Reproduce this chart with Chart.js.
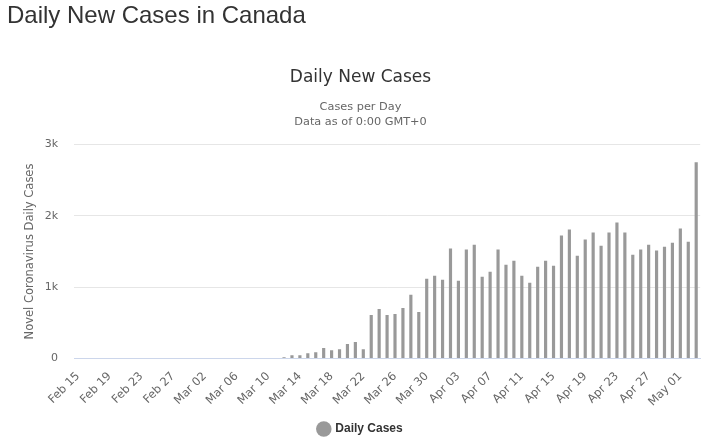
<!DOCTYPE html>
<html>
<head>
<meta charset="utf-8">
<title>Daily New Cases in Canada</title>
<script src="https://cdn.jsdelivr.net/npm/chart.js@4.4.1/dist/chart.umd.min.js"></script>
<style>
    body { margin: 0; background: #fff; width: 709px; height: 447px; overflow: hidden; position: relative; }
    h3 {
        position: absolute; left: 7px; top: 1px; margin: 0; z-index: 2;
        font-family: "Liberation Sans", Arial, sans-serif;
        font-size: 24px; font-weight: normal; color: #333;
    }
    #chartBox { position: absolute; left: 0; top: 0; width: 709px; height: 449px; }
</style>
</head>
<body>
<div id="chartBox"><canvas id="casesChart"></canvas></div>
<h3>Daily New Cases in Canada</h3>

<script>
// Dates shown on the x axis (Feb 15 -> May 03, 2020)
const days = [
    "Feb 15", "Feb 16", "Feb 17", "Feb 18", "Feb 19", "Feb 20", "Feb 21", "Feb 22", "Feb 23", "Feb 24",
    "Feb 25", "Feb 26", "Feb 27", "Feb 28", "Feb 29",
    "Mar 01", "Mar 02", "Mar 03", "Mar 04", "Mar 05", "Mar 06", "Mar 07", "Mar 08", "Mar 09", "Mar 10",
    "Mar 11", "Mar 12", "Mar 13", "Mar 14", "Mar 15", "Mar 16", "Mar 17", "Mar 18", "Mar 19", "Mar 20",
    "Mar 21", "Mar 22", "Mar 23", "Mar 24", "Mar 25", "Mar 26", "Mar 27", "Mar 28", "Mar 29", "Mar 30",
    "Mar 31",
    "Apr 01", "Apr 02", "Apr 03", "Apr 04", "Apr 05", "Apr 06", "Apr 07", "Apr 08", "Apr 09", "Apr 10",
    "Apr 11", "Apr 12", "Apr 13", "Apr 14", "Apr 15", "Apr 16", "Apr 17", "Apr 18", "Apr 19", "Apr 20",
    "Apr 21", "Apr 22", "Apr 23", "Apr 24", "Apr 25", "Apr 26", "Apr 27", "Apr 28", "Apr 29", "Apr 30",
    "May 01", "May 02", "May 03"
];

// Daily new cases (nothing visible before Mar 12)
const dailyCases = [
    0, 0, 0, 0, 0, 0, 0, 0, 0, 0, 0, 0, 0, 0, 0,
    0, 0, 0, 0, 0, 0, 0, 0, 0, 0, 0,
    19, 47, 47, 75, 89, 146, 117, 131, 202, 230,
    131, 610, 695, 610, 624, 709, 892, 653, 1117, 1160,
    1103, 1540, 1089, 1526, 1596, 1146, 1216, 1526, 1315, 1371,
    1160, 1061, 1286, 1371, 1300, 1723, 1808, 1441, 1667, 1765,
    1582, 1765, 1906, 1765, 1455, 1526, 1596, 1512, 1568, 1624,
    1822, 1638, 2751
];

// y axis ticks
const yTicks = [0, 1000, 2000, 3000];
const yTickLabels = ["0", "1k", "2k", "3k"];

document.addEventListener("DOMContentLoaded", function () {
    const ctx = document.getElementById("casesChart")?.getContext("2d");
    if (!ctx) return;

    const dejavu = "'DejaVu Sans', Verdana, sans-serif";

    new Chart(ctx, {
        type: "bar",
        data: {
            labels: days,
            datasets: [{
                label: "Daily Cases",
                data: dailyCases,
                backgroundColor: "#999999",
                borderWidth: 0,
                barPercentage: 0.4,
                categoryPercentage: 1.0,
            }],
        },
        options: {
            responsive: true,
            maintainAspectRatio: false,
            animation: false,
            // left padding pushes title + legend centre to x=360 like the original
            layout: { padding: { left: 19, right: 7, top: 0, bottom: 4 } },
            scales: {
                x: {
                    grid: { display: false },
                    border: { color: "#ccd6eb", width: 1 },
                    ticks: {
                        autoSkip: false,
                        minRotation: 45,
                        maxRotation: 45,
                        padding: 3,
                        color: "#666666",
                        font: { family: dejavu, size: 11.5 },
                        // only every 4th date gets a label
                        callback: (value, index) => index % 4 === 0 ? days[index] : "",
                    },
                },
                y: {
                    min: 0,
                    max: 3000,
                    afterBuildTicks: (axis) => { axis.ticks = yTicks.map(v => ({ value: v })); },
                    afterFit: (axis) => { axis.width = 55; }, // plot starts at x=74 like the original
                    grid: { color: "#e6e6e6", drawTicks: false },
                    border: { display: false },
                    ticks: {
                        padding: 16,
                        color: "#666666",
                        font: { family: dejavu, size: 11 },
                        callback: (value) => yTickLabels[yTicks.indexOf(value)],
                    },
                    title: {
                        display: true,
                        text: "Novel Coronavirus Daily Cases",
                        color: "#666666",
                        font: { family: dejavu, size: 11.5 },
                        padding: { top: 4, bottom: 0 },
                    },
                },
            },
            plugins: {
                title: {
                    display: true,
                    text: "Daily New Cases",
                    color: "#333333",
                    font: { family: dejavu, size: 17, weight: "normal" },
                    padding: { top: 67, bottom: 12 },
                },
                subtitle: {
                    display: true,
                    text: ["Cases per Day", "Data as of 0:00 GMT+0"],
                    color: "#666666",
                    font: { family: dejavu, size: 11.3, lineHeight: 1.33 },
                    padding: { top: 0, bottom: 15 },
                },
                legend: {
                    position: "bottom",
                    labels: {
                        usePointStyle: true,
                        pointStyle: "circle",
                        boxWidth: 11,
                        boxHeight: 11,
                        padding: 11,
                        color: "#333333",
                        font: { family: "'Liberation Sans', Arial, sans-serif", size: 12, weight: "bold" },
                    },
                },
                tooltip: { enabled: false },
            },
        },
    });
});
</script>
</body>
</html>
